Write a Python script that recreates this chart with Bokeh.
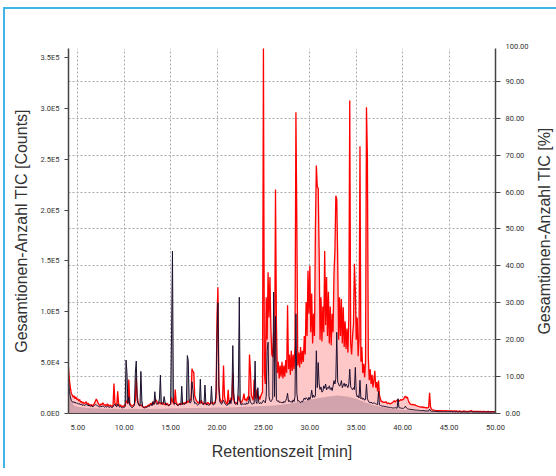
import math
import numpy as np
from bokeh.plotting import figure
from bokeh.layouts import row
from bokeh.models import Range1d, LinearAxis, FixedTicker, NumeralTickFormatter, Label
from bokeh.embed import file_html
from bokeh.resources import INLINE

# ---------------- data (percent of TIC maximum) ----------------
# sampling grid: 4.0 ... 50.0 min every 0.1 min
TIME_MIN = [round(4.0 + 0.1 * i, 1) for i in range(461)]

RED_PCT = [
    12.5, 9.0, 7.0, 5.5, 5.0, 4.4, 4.8, 4.0, 4.5, 3.8,          # 4
    4.0, 3.4, 3.8, 3.0, 3.3, 2.8, 3.1, 2.6, 2.9, 3.2,           # 5
    2.6, 2.8, 2.3, 2.5, 2.1, 2.4, 2.0, 2.3, 2.8, 3.4,           # 6
    3.9, 3.4, 2.8, 2.4, 2.2, 2.6, 2.3, 2.9, 2.5, 2.2,           # 7
    2.4, 2.1, 2.6, 2.2, 2.0, 2.3, 2.1, 1.9, 2.2, 8.1,           # 8
    2.8, 2.4, 2.2, 6.0, 2.6, 2.1, 2.3, 2.0, 1.8, 2.1,           # 9
    1.9, 2.2, 3.5, 3.2, 2.6, 9.2, 2.8, 2.4, 2.1, 2.0,           # 10
    2.3, 2.6, 3.5, 9.6, 4.8, 3.0, 2.4, 2.2, 2.3, 2.1,           # 11
    1.8, 1.6, 1.7, 1.9, 1.8, 2.0, 2.3, 2.1, 2.6, 2.8,           # 12
    2.3, 3.2, 2.6, 3.0, 3.8, 3.4, 2.8, 2.6, 3.1, 2.8,           # 13
    2.5, 3.0, 2.7, 2.4, 2.6, 2.3, 2.8, 2.5, 2.2, 2.4,           # 14
    2.6, 4.3, 3.3, 2.8, 2.5, 6.5, 3.0, 2.6, 2.3, 2.5,           # 15
    2.7, 2.4, 2.8, 2.5, 2.9, 2.6, 3.1, 2.8, 3.4, 3.0,           # 16
    3.3, 3.8, 3.6, 12.1, 11.5, 11.1, 4.8, 4.0, 3.4, 3.0,        # 17
    2.8, 3.2, 2.7, 3.6, 3.0, 2.6, 2.9, 2.5, 2.8, 2.6,           # 18
    3.0, 2.7, 2.4, 2.8, 3.1, 2.6, 2.9, 2.7, 3.2, 4.3,           # 19
    26.5, 34.2, 7.8, 4.3, 3.3, 3.0, 3.8, 13.0, 4.8, 3.3,        # 20
    2.8, 2.6, 6.4, 3.0, 2.8, 4.3, 3.6, 10.9, 4.0, 2.8,          # 21
    3.1, 2.6, 2.9, 4.8, 3.8, 3.3, 2.8, 3.4, 4.0, 5.4,           # 22
    3.6, 4.0, 3.3, 4.6, 3.7, 16.0, 11.4, 4.8, 4.3, 3.6,         # 23
    9.2, 4.8, 4.0, 6.5, 4.3, 4.8, 3.8, 4.6, 5.3, 5.8,           # 24
    100.0, 11.0, 8.0, 31.5, 20.0, 38.3, 26.0, 37.0, 23.5, 16.0, # 25
    15.3, 22.0, 14.0, 60.7, 24.0, 11.0, 14.0, 9.5, 13.0, 10.0,  # 26
    14.0, 9.5, 13.0, 10.0, 14.5, 11.0, 29.3, 12.0, 16.0, 10.5,  # 27
    17.0, 11.5, 16.0, 12.0, 18.5, 81.6, 51.0, 13.0, 16.5, 12.5, # 28
    18.0, 13.5, 17.0, 14.0, 21.0, 16.0, 30.2, 21.0, 38.7, 27.0, # 29
    40.0, 22.0, 32.5, 19.0, 27.0, 21.0, 50.0, 67.2, 61.5, 61.0, # 30
    44.0, 20.0, 31.5, 19.5, 29.0, 22.0, 44.0, 24.0, 37.0, 21.0, # 31
    33.0, 19.0, 29.0, 18.5, 27.0, 22.0, 38.0, 44.0, 59.0, 58.0, # 32
    42.0, 20.0, 31.5, 21.0, 31.0, 19.0, 28.8, 18.0, 25.0, 17.5, # 33
    23.0, 16.5, 26.0, 84.8, 19.0, 16.0, 21.0, 24.3, 40.6, 33.4, # 34
    20.0, 26.0, 15.5, 20.0, 72.4, 14.0, 18.0, 11.0, 13.5, 9.8,  # 35
    14.0, 83.0, 69.5, 15.3, 9.0, 12.0, 8.0, 10.5, 7.1, 9.0,     # 36
    11.6, 7.0, 8.5, 6.0, 8.9, 5.0, 4.0, 3.2, 3.3, 3.0,          # 37
    3.1, 3.0, 3.2, 2.8, 2.7, 2.9, 2.6, 2.7, 2.8, 3.0,           # 38
    3.2, 3.5, 3.1, 3.4, 3.6, 3.7, 3.3, 3.5, 3.8, 3.6,           # 39
    3.8, 3.9, 4.4, 4.7, 4.2, 4.5, 3.6, 3.0, 2.6, 2.5,           # 40
    2.4, 2.5, 2.3, 2.4, 2.2, 2.1, 2.0, 1.9, 1.8, 1.8,           # 41
    1.7, 1.8, 1.6, 1.7, 1.6, 1.5, 1.6, 1.5, 1.7, 5.6,           # 42
    1.8, 1.2, 1.0, 0.9, 0.9, 0.8, 0.8, 0.8, 0.8, 0.8,           # 43
    0.8, 0.8, 0.7, 0.8, 0.7, 0.7, 0.8, 0.7, 0.7, 0.7,           # 44
    0.7, 0.7, 0.7, 0.7, 0.6, 0.7, 0.7, 0.6, 0.7, 0.6,           # 45
    0.6, 0.7, 0.6, 0.6, 0.6, 0.6, 0.7, 0.6, 0.6, 0.6,           # 46
    0.6, 0.6, 0.6, 0.7, 0.8, 0.6, 0.6, 0.6, 0.6, 0.6,           # 47
    0.6, 0.6, 0.5, 0.6, 0.6, 0.5, 0.6, 0.5, 0.6, 0.5,           # 48
    0.5, 0.5, 0.6, 0.5, 0.5, 0.5, 0.5, 0.5, 0.5, 0.5,           # 49
    0.5,                                                        # 50
]

BLACK_PCT = [
    9.5, 6.0, 4.5, 3.6, 3.2, 3.0, 3.2, 2.8, 3.0, 2.7,           # 4
    2.8, 2.5, 2.7, 2.3, 2.6, 2.2, 2.4, 2.1, 2.3, 2.5,           # 5
    2.2, 2.4, 2.0, 2.2, 1.9, 2.1, 1.8, 2.0, 2.2, 2.4,           # 6
    2.3, 2.1, 2.0, 1.9, 1.7, 2.0, 1.8, 2.1, 1.9, 1.7,           # 7
    1.9, 1.7, 2.0, 1.8, 1.6, 1.9, 1.7, 1.6, 1.8, 2.3,           # 8
    2.5, 2.0, 1.8, 2.6, 2.1, 1.7, 1.9, 1.6, 1.5, 1.7,           # 9
    1.6, 1.9, 14.5, 11.0, 2.8, 4.5, 2.3, 1.9, 1.7, 1.6,         # 10
    1.9, 2.2, 11.0, 14.2, 3.6, 2.7, 2.2, 2.0, 11.4, 3.6,        # 11
    1.9, 1.6, 1.5, 1.7, 1.6, 1.8, 2.0, 1.9, 2.2, 2.5,           # 12
    2.1, 3.2, 2.4, 5.9, 3.0, 2.5, 2.6, 2.7, 4.2, 10.4,          # 13
    2.7, 2.5, 2.7, 4.6, 3.1, 2.3, 2.5, 2.2, 2.1, 2.3,           # 14
    2.6, 21.4, 44.0, 3.6, 2.5, 2.8, 2.6, 2.3, 2.1, 2.4,         # 15
    2.5, 2.3, 7.4, 2.4, 2.7, 2.5, 2.7, 2.8, 15.7, 14.4,         # 16
    3.6, 2.8, 3.1, 8.6, 6.5, 3.6, 2.7, 2.9, 2.5, 2.3,           # 17
    2.4, 2.7, 9.3, 2.9, 2.7, 2.4, 2.6, 7.7, 2.7, 2.3,           # 18
    2.5, 2.2, 2.4, 2.6, 7.4, 2.7, 2.3, 2.5, 2.7, 6.0,           # 19
    21.0, 30.0, 6.7, 3.2, 2.7, 2.5, 3.2, 3.6, 2.9, 2.5,         # 20
    2.3, 2.2, 2.7, 2.5, 3.6, 2.7, 4.6, 18.4, 5.5, 2.7,          # 21
    2.5, 2.7, 2.4, 8.0, 31.5, 3.2, 2.3, 2.5, 2.7, 2.4,          # 22
    2.7, 2.4, 2.9, 2.6, 2.8, 4.6, 3.2, 2.7, 2.5, 2.8,           # 23
    2.7, 14.2, 3.2, 2.7, 7.0, 2.9, 2.6, 3.0, 2.7, 3.1,          # 24
    3.6, 3.2, 2.9, 4.6, 17.0, 19.3, 4.6, 3.5, 3.2, 3.6,         # 25
    4.1, 32.9, 4.6, 26.3, 3.7, 3.3, 3.5, 3.0, 3.2, 2.9,         # 26
    3.1, 2.8, 3.3, 3.0, 3.5, 4.1, 5.5, 3.2, 3.5, 3.1,           # 27
    3.3, 3.0, 3.7, 3.2, 4.6, 27.0, 5.5, 3.3, 3.5, 3.2,          # 28
    2.9, 3.3, 3.1, 3.6, 4.2, 3.8, 4.3, 4.0, 3.6, 4.4,           # 29
    3.8, 4.6, 6.3, 4.3, 5.0, 4.4, 4.8, 17.0, 7.0, 13.8,         # 30
    8.0, 6.5, 7.2, 5.8, 6.0, 7.5, 6.8, 8.0, 6.4, 7.0,           # 31
    6.8, 7.5, 6.5, 7.0, 6.2, 7.4, 8.9, 8.0, 9.5, 22.0,          # 32
    8.5, 8.0, 7.4, 7.8, 8.9, 7.0, 7.6, 8.2, 7.3, 8.0,           # 33
    7.5, 7.0, 8.0, 12.0, 7.2, 6.8, 6.4, 7.0, 6.5, 12.5,         # 34
    5.5, 4.5, 4.8, 4.2, 9.0, 4.0, 4.3, 3.8, 4.1, 3.6,           # 35
    3.8, 8.0, 4.0, 3.4, 3.0, 2.9, 3.1, 2.8, 2.7, 2.9,           # 36
    2.8, 2.6, 2.5, 2.4, 6.0, 2.3, 2.2, 2.1, 2.0, 2.0,           # 37
    1.9, 1.9, 1.8, 1.8, 1.7, 1.7, 1.6, 1.6, 1.6, 1.5,           # 38
    1.5, 1.5, 1.6, 1.5, 1.4, 4.0, 1.6, 1.5, 1.5, 1.4,           # 39
    1.4, 1.4, 1.6, 2.0, 1.5, 1.3, 1.2, 1.2, 1.1, 1.1,           # 40
    1.1, 1.0, 1.0, 1.0, 0.9, 0.9, 0.9, 0.9, 0.8, 0.8,           # 41
    0.8, 0.8, 0.8, 0.8, 0.7, 0.7, 0.7, 0.7, 0.7, 1.2,           # 42
    0.7, 0.6, 0.6, 0.6, 0.6, 0.6, 0.6, 0.6, 0.5, 0.5,           # 43
    0.5, 0.5, 0.5, 0.5, 0.5, 0.5, 0.5, 0.5, 0.5, 0.5,           # 44
    0.5, 0.5, 0.5, 0.5, 0.4, 0.5, 0.5, 0.4, 0.5, 0.4,           # 45
    0.4, 0.5, 0.4, 0.4, 0.4, 0.4, 0.5, 0.4, 0.4, 0.4,           # 46
    0.4, 0.4, 0.4, 0.5, 0.5, 0.4, 0.4, 0.4, 0.4, 0.4,           # 47
    0.4, 0.4, 0.4, 0.4, 0.4, 0.4, 0.4, 0.4, 0.4, 0.4,           # 48
    0.4, 0.4, 0.4, 0.4, 0.4, 0.4, 0.4, 0.4, 0.4, 0.4,           # 49
    0.4,                                                        # 50
]

# smooth background hump (shaded under the black trace)
BASE_TIME = [4.0, 4.3, 4.6, 5.0, 6.0, 7.0, 8.0, 9.0, 10.0, 11.0, 12.0, 13.0, 14.0,
             15.0, 16.0, 17.0, 18.0, 19.0, 20.0, 21.0, 22.0, 23.0, 24.0, 25.0, 26.0,
             27.0, 28.0, 29.0, 30.0, 31.0, 32.0, 33.0, 34.0, 35.0, 36.0, 37.0, 38.0,
             39.0, 40.0, 41.0, 42.0, 43.0, 44.0, 45.0, 46.0, 47.0, 48.0, 49.0, 50.0]
BASE_PCT = [6.0, 3.5, 2.2, 1.8, 1.5, 1.4, 1.3, 1.3, 1.2, 1.3, 1.2, 1.3, 1.3,
            1.4, 1.4, 1.5, 1.5, 1.5, 1.6, 1.6, 1.7, 1.8, 1.9, 2.0, 2.2,
            2.4, 2.8, 3.2, 3.7, 4.2, 4.6, 4.9, 4.6, 4.0, 3.0, 2.2, 1.6,
            1.2, 1.0, 0.8, 0.7, 0.6, 0.5, 0.5, 0.45, 0.45, 0.4, 0.4, 0.4]

X_TICKS = [5, 10, 15, 20, 25, 30, 35, 40, 45, 50]
PCT_TICKS = [0, 10, 20, 30, 40, 50, 60, 70, 80, 90, 100]
COUNT_TICKS = [0, 50000, 100000, 150000, 200000, 250000, 300000, 350000]
COUNT_LABELS = ["0.0E0", "5.0E4", "1.0E5", "1.5E5", "2.0E5", "2.5E5", "3.0E5", "3.5E5"]
RIGHT_TITLE = "Gesamtionen-Anzahl TIC [%]"

PCT_MAX = 98.9          # top of plotting area in percent
COUNTS_MAX = 359000     # same height in counts

# ---------------- figure ----------------
TICK_FONT = "Roboto"
LABEL_FONT = "Liberation Sans"
W_BORDER_L, W_FRAME, W_BORDER_R = 63, 427, 36
H_BORDER_T, H_FRAME, H_BORDER_B = 39, 365, 55
W_SIDE = 25

fig = figure(frame_width=W_FRAME, frame_height=H_FRAME,
             x_range=Range1d(4, 50), y_range=Range1d(0, PCT_MAX),
             y_axis_location="right",
             output_backend="svg", toolbar_location=None,
             min_border_left=W_BORDER_L, min_border_right=W_BORDER_R,
             min_border_top=H_BORDER_T, min_border_bottom=H_BORDER_B,
             title="100.00")
fig.outline_line_color = None
fig.background_fill_color = "white"
fig.border_fill_color = "white"
fig.extra_y_ranges = {"counts": Range1d(0, COUNTS_MAX)}

# the "100.00" tick label sits just above the plotting area, right of the frame
fig.title.align = "left"
fig.title.offset = W_FRAME + 10
fig.title.standoff = 0
fig.title.vertical_align = "bottom"
fig.title.text_font = TICK_FONT
fig.title.text_font_size = "7.5px"
fig.title.text_font_style = "normal"
fig.title.text_color = "#333333"

t = np.array(TIME_MIN)
red = np.array(RED_PCT)
blk = np.array(BLACK_PCT)

fig.varea(x=t, y1=0, y2=blk, fill_color="#a3a3a3")
fig.varea(x=t, y1=0, y2=red, fill_color="#ffc8c8")
fig.varea(x=BASE_TIME, y1=0, y2=BASE_PCT, fill_color="#d3a3ad")
fig.line(t, red, line_color="#ff0000", line_width=1.3)
fig.line(t, blk, line_color="#1c1030", line_width=1.0)

# grids
fig.xgrid.ticker = FixedTicker(ticks=X_TICKS)
fig.ygrid.ticker = FixedTicker(ticks=PCT_TICKS)
for g in (fig.xgrid[0], fig.ygrid[0]):
    g.grid_line_color = "#aaaaaa"
    g.grid_line_dash = "2 2"
    g.grid_line_width = 1

# x axis
xa = fig.xaxis[0]
xa.ticker = FixedTicker(ticks=X_TICKS)
xa.formatter = NumeralTickFormatter(format="0.00")
xa.axis_label = "Retentionszeit [min]"

# right axis (percent)
ra = fig.yaxis[0]
ra.ticker = FixedTicker(ticks=PCT_TICKS)
ra.formatter = NumeralTickFormatter(format="0.00")

# left axis (counts)
la = LinearAxis(y_range_name="counts", ticker=FixedTicker(ticks=COUNT_TICKS),
                major_label_overrides=dict(zip(COUNT_TICKS, COUNT_LABELS)),
                axis_label="Gesamtionen-Anzahl TIC [Counts]")
fig.add_layout(la, "left")

for ax in (xa, ra, la):
    ax.major_label_text_font = TICK_FONT
    ax.major_label_text_font_size = "7.5px"
    ax.major_label_text_color = "#333333"
    ax.axis_label_text_font = LABEL_FONT
    ax.axis_label_text_font_size = "16px"
    ax.axis_label_text_font_style = "normal"
    ax.axis_label_text_color = "#333333"
    ax.axis_line_color = "#444444"
    ax.axis_line_width = 1.5
    ax.major_tick_line_color = "#444444"
    ax.minor_tick_line_color = None

xa.major_tick_line_color = None
xa.major_tick_out = 3
xa.major_label_standoff = 8
xa.axis_label_standoff = 10
xa.axis_line_width = 1

la.major_tick_in = 0
la.major_tick_out = 4
la.major_label_standoff = 5
la.axis_label_standoff = 8

ra.major_tick_in = 0
ra.major_tick_out = 5
ra.major_label_standoff = 5

# narrow strip on the right that carries the right axis title (reads upwards)
side = figure(frame_width=W_SIDE, frame_height=H_FRAME,
              x_range=Range1d(0, W_SIDE), y_range=Range1d(0, H_FRAME),
              x_axis_location=None, y_axis_location=None,
              output_backend="svg", toolbar_location=None,
              min_border_left=0, min_border_right=0,
              min_border_top=H_BORDER_T, min_border_bottom=H_BORDER_B)
side.outline_line_color = None
side.grid.visible = False
side.border_fill_color = "white"
side.background_fill_color = "white"
side.add_layout(Label(x=13, y=H_FRAME / 2, text=RIGHT_TITLE, angle=math.pi / 2,
                      text_align="center", text_baseline="middle",
                      text_font=LABEL_FONT, text_font_size="16px",
                      text_color="#333333"))

p = row(fig, side, spacing=0)
p.styles = {"margin-left": "3px", "margin-top": "7px",
            "border-left": "2px solid #41b4e6", "border-top": "2px solid #41b4e6"}

open("out.html", "w").write(file_html(p, INLINE))
